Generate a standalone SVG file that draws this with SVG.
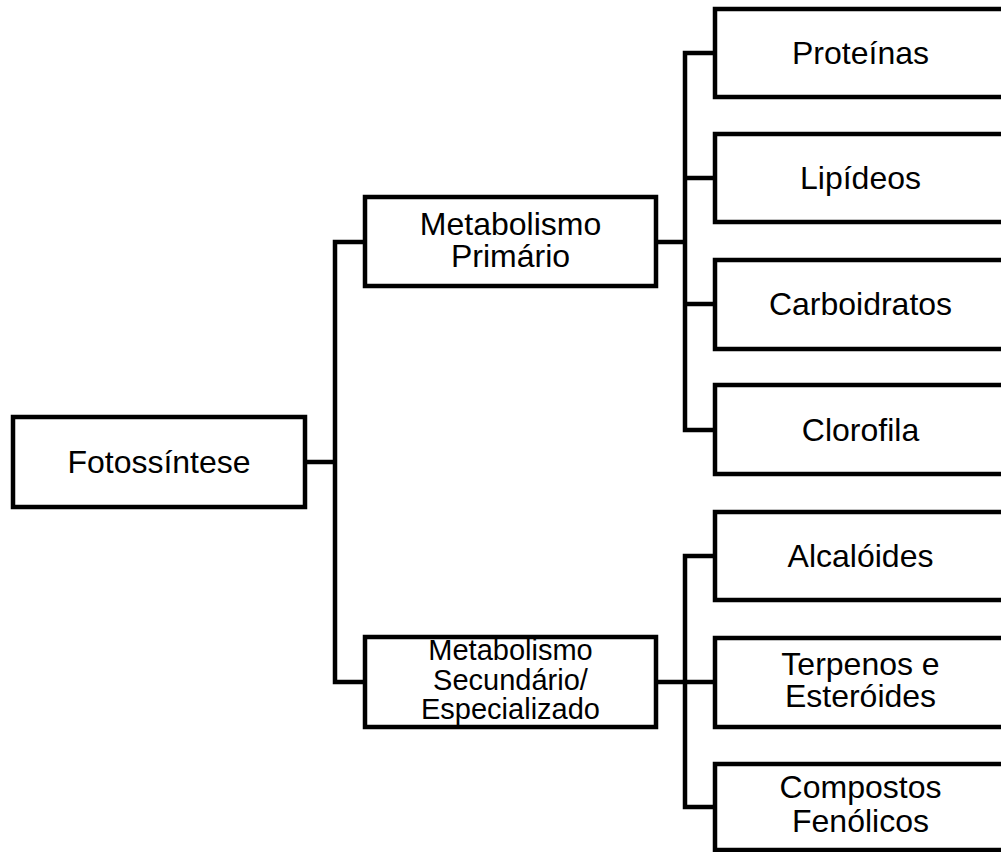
<svg xmlns="http://www.w3.org/2000/svg" width="1001" height="852" viewBox="0 0 1001 852">
<style>
.box{fill:#fff;stroke:#000;stroke-width:4.5;stroke-linejoin:miter}
.c{fill:none;stroke:#000;stroke-width:4.5;stroke-linejoin:miter;stroke-linecap:square}
.t{font-family:"Liberation Sans",Arial,sans-serif;font-size:32px;fill:#000;text-anchor:middle}
.s{font-size:29px}
</style>
<rect width="1001" height="852" fill="#fff"/>
<g id="connectors">
<path class="c" d="M305,462 H335 M365,242 H335 V682 H365"/>
<path class="c" d="M656,242 H685 M715,53 H685 V430 H715 M685,178 H715 M685,304 H715"/>
<path class="c" d="M656,682 H685 M715,556 H685 V807 H715 M685,682 H715"/>
</g>
<g id="n-fotossintese"><rect class="box" x="13" y="417" width="292" height="90"/><text class="t" x="159" y="473">Fotossíntese</text></g>
<g id="n-primario"><rect class="box" x="365" y="197" width="291" height="89"/><text class="t" x="510.5" y="235">Metabolismo</text><text class="t" x="510.5" y="267">Primário</text></g>
<g id="n-secundario"><rect class="box" x="365" y="637" width="291" height="90"/><text class="t s" x="510.5" y="660">Metabolismo</text><text class="t s" x="510.5" y="689.5">Secundário/</text><text class="t s" x="510.5" y="719">Especializado</text></g>
<g id="n-proteinas"><rect class="box" x="715" y="9" width="291" height="88"/><text class="t" x="860.5" y="64">Proteínas</text></g>
<g id="n-lipideos"><rect class="box" x="715" y="134" width="291" height="88"/><text class="t" x="860.5" y="189">Lipídeos</text></g>
<g id="n-carboidratos"><rect class="box" x="715" y="260" width="291" height="89"/><text class="t" x="860.5" y="315">Carboidratos</text></g>
<g id="n-clorofila"><rect class="box" x="715" y="385" width="291" height="89"/><text class="t" x="860.5" y="441">Clorofila</text></g>
<g id="n-alcaloides"><rect class="box" x="715" y="512" width="291" height="88"/><text class="t" x="860.5" y="567">Alcalóides</text></g>
<g id="n-terpenos"><rect class="box" x="715" y="638" width="291" height="89"/><text class="t" x="860.5" y="675">Terpenos e</text><text class="t" x="860.5" y="707">Esteróides</text></g>
<g id="n-compostos"><rect class="box" x="715" y="764" width="291" height="86"/><text class="t" x="860.5" y="798">Compostos</text><text class="t" x="860.5" y="832">Fenólicos</text></g>
</svg>
